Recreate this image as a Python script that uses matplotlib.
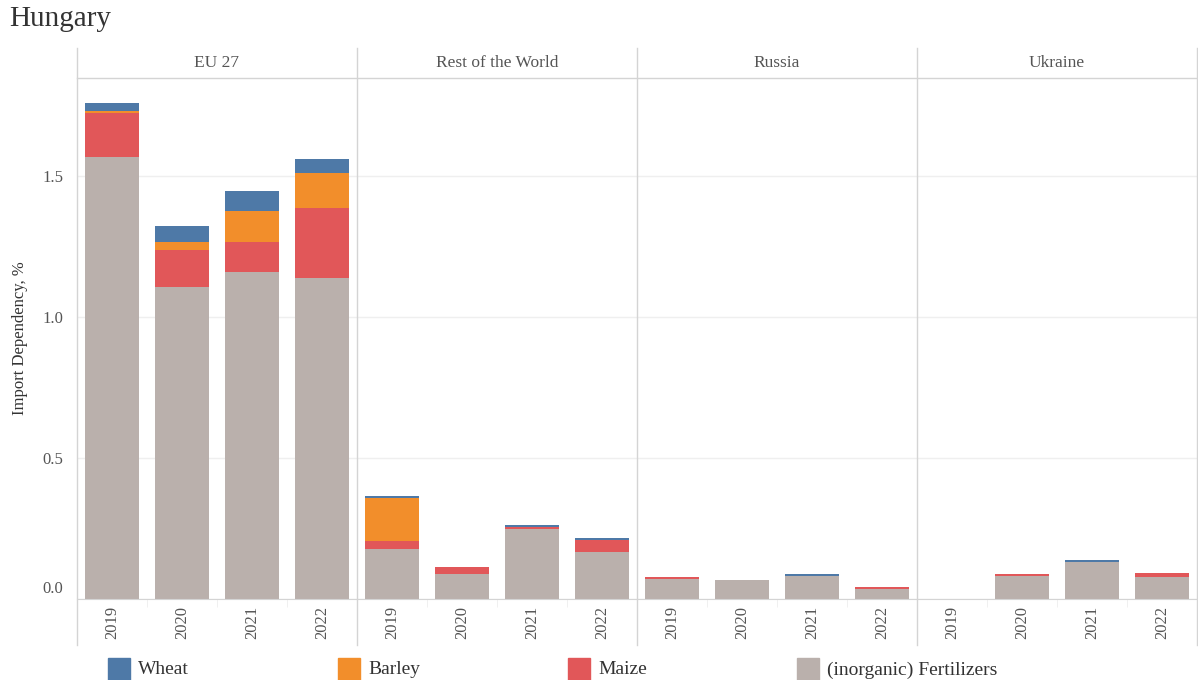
import matplotlib
matplotlib.use("Agg")
import matplotlib.pyplot as plt
from matplotlib.lines import Line2D
from matplotlib.patches import Rectangle
import numpy as np

plt.rcParams["font.family"] = ["Liberation Serif", "DejaVu Serif"]

# data
regions = ["EU 27", "Rest of the World", "Russia", "Ukraine"]
years = ["2019", "2020", "2021", "2022"]
products = ["Wheat", "Barley", "Maize", "(inorganic) Fertilizers"]
colors = ["#4e79a7", "#f28e2b", "#e15759", "#bab0ac"]

fertilizers = [
    [1.566, 1.106, 1.159, 1.137],
    [0.177, 0.089, 0.248, 0.167],
    [0.071, 0.067, 0.082, 0.035],
    [0.000, 0.082, 0.131, 0.078],
]
maize = [
    [0.156, 0.131, 0.106, 0.249],
    [0.028, 0.024, 0.006, 0.042],
    [0.007, 0.000, 0.000, 0.007],
    [0.000, 0.007, 0.000, 0.014],
]
barley = [
    [0.007, 0.028, 0.110, 0.124],
    [0.153, 0.000, 0.000, 0.000],
    [0.000, 0.000, 0.000, 0.000],
    [0.000, 0.000, 0.000, 0.000],
]
wheat = [
    [0.030, 0.057, 0.071, 0.049],
    [0.008, 0.000, 0.008, 0.007],
    [0.000, 0.000, 0.007, 0.000],
    [0.000, 0.000, 0.007, 0.000],
]

W, H = 1198, 680
fig = plt.figure(figsize=(W / 100, H / 100), dpi=100)

def fx(px):
    return px / W

def fy(py):
    return 1 - py / H

left, right = 77, 1197
top, base = 78, 599
panel_w = (right - left) / len(regions)
ymax = (base - top) / 282.2
line_col = "#d4d4d4"
text_col = "#555555"

# stack order bottom -> top
stack = [(fertilizers, colors[3]), (maize, colors[2]), (barley, colors[1]), (wheat, colors[0])]

x = np.arange(len(years))
for i, reg in enumerate(regions):
    x0 = left + i * panel_w
    ax = fig.add_axes([fx(x0), fy(base), fx(panel_w), (base - top) / H])
    bottom = np.zeros(len(years))
    for vals, col in stack:
        v = np.array(vals[i])
        ax.bar(x, v, bottom=bottom, width=0.76, color=col, linewidth=0)
        bottom += v
    ax.set_xlim(-0.5, len(years) - 0.5)
    ax.set_ylim(0, ymax)
    ax.set_yticks([0, 0.5, 1.0, 1.5])
    ax.grid(axis="y", color="#efefef", linewidth=1)
    ax.set_axisbelow(True)
    for s in ax.spines.values():
        s.set_visible(False)
    ax.spines["bottom"].set_visible(True)
    ax.spines["bottom"].set_color(line_col)
    ax.set_xticks(x)
    ax.set_xticklabels(years, rotation=90, fontsize=12, color=text_col)
    ax.set_xticks([0.5, 1.5, 2.5], minor=True)
    ax.tick_params(axis="x", which="major", length=0, pad=5)
    ax.tick_params(axis="x", which="minor", length=6, color="#eeeeee")
    ax.tick_params(axis="y", length=0, pad=10, labelsize=12, labelcolor=text_col)
    if i == 0:
        ax.set_yticklabels(["", "0.5", "1.0", "1.5"])
        ax.annotate("0.0", xy=(0, 0), xycoords=("axes fraction", "data"),
                    xytext=(-10, 7.5), textcoords="offset points",
                    ha="right", va="center", fontsize=12, color=text_col)
        ax.set_ylabel("Import Dependency, %", fontsize=12, color="#333333", labelpad=10)
    else:
        ax.set_yticklabels([])
    fig.text(fx(x0 + panel_w / 2), fy(63), reg, ha="center", va="center",
             fontsize=12.5, color=text_col)

# panel frame lines
for i in range(len(regions) + 1):
    xp = fx(left + i * panel_w)
    fig.add_artist(Line2D([xp, xp], [fy(48), fy(645)], color=line_col, linewidth=1))
fig.add_artist(Line2D([fx(left), fx(right)], [fy(top), fy(top)], color=line_col, linewidth=1))

fig.text(fx(9), fy(19), "Hungary", ha="left", va="center", fontsize=21, color="#333333")

# legend
leg_x = [108, 338, 568, 797]
for lx, name, col in zip(leg_x, products, colors):
    fig.add_artist(Rectangle((fx(lx), fy(680)), fx(22), 22 / H, color=col,
                             transform=fig.transFigure))
    fig.text(fx(lx + 30), fy(670), name, ha="left", va="center", fontsize=14, color="#333333")

fig.savefig("out.png", dpi=100)
